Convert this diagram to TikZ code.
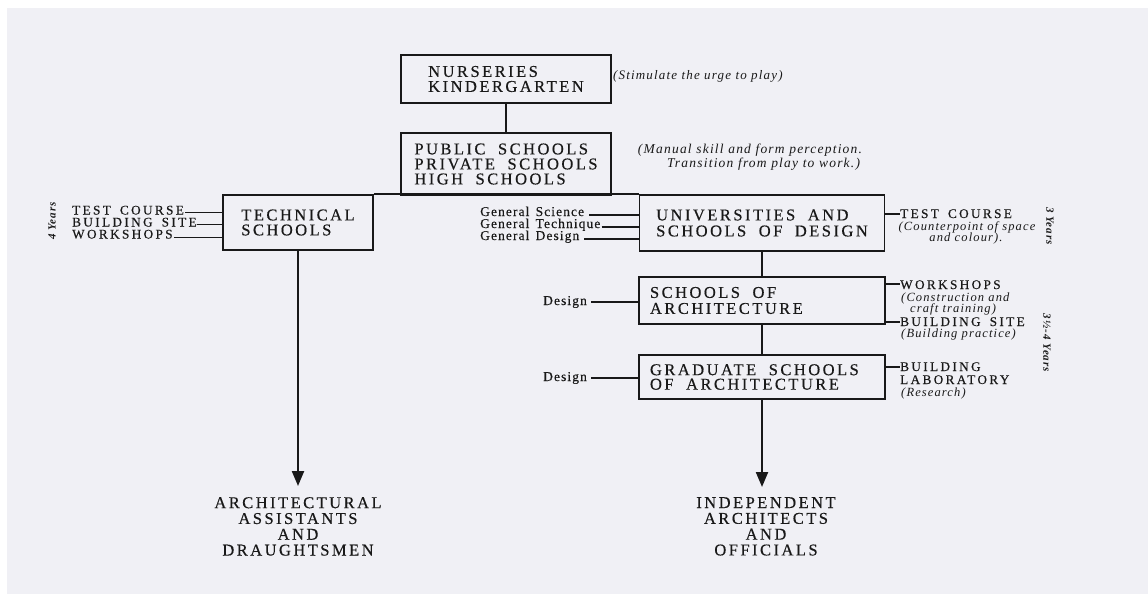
\documentclass[tikz,border=0pt]{standalone}
\usepackage{fontspec}
\setmainfont{Liberation Serif}
\newfontfamily\capf[LetterSpace=15,WordSpace=1.9,FakeBold=0.4]{Liberation Serif}
\newfontfamily\labf[LetterSpace=18,WordSpace=1.6,FakeBold=0.4]{Liberation Serif}
\newfontfamily\lowf[LetterSpace=8,WordSpace=1.4,FakeBold=0.3]{Liberation Serif}
\newfontfamily\itf[LetterSpace=9]{Liberation Serif}
\usetikzlibrary{arrows.meta,calc}
\definecolor{bg}{RGB}{240,240,245}
\definecolor{ink}{RGB}{25,25,25}
\tikzset{
  box/.style={draw=ink, line width=1.8pt, inner sep=0pt, align=left, text=ink,
    font=\capf\fontsize{16.5}{15}\selectfont},
  conn/.style={draw=ink, line width=1.8pt},
  link/.style={draw=ink, line width=1.4pt},
  arr/.style={draw=ink, line width=2.2pt, -{Triangle[length=15pt,width=12pt]}},
  lab/.style={inner sep=0pt, text=ink, anchor=base west, font=\labf\fontsize{13.2}{13}\selectfont},
  glab/.style={inner sep=0pt, text=ink, anchor=base west, font=\lowf\fontsize{13.5}{13}\selectfont},
  itl/.style={inner sep=0pt, text=ink, anchor=base west, font=\itf\itshape\fontsize{12.5}{12}\selectfont},
  note/.style={inner sep=0pt, text=ink, font=\itf\itshape\fontsize{13}{13}\selectfont},
  yrs/.style={inner sep=0pt, text=ink, font=\itf\itshape\bfseries\fontsize{11}{11}\selectfont},
  outt/.style={inner sep=0pt, text=ink, align=center, font=\capf\fontsize{16.5}{15.8}\selectfont}
}
\begin{document}
\begin{tikzpicture}[x=1pt,y=-1pt]
\useasboundingbox (0,0) rectangle (1148,594);
\fill[white] (0,0) rectangle (1148,594);
\fill[bg] (7,8) rectangle (1148,594);

% boxes
\node[box, minimum width=210pt, minimum height=48pt] (nurs) at (506,79) {NURSERIES\\KINDERGARTEN};
\node[box, minimum width=210pt, minimum height=62pt] (pub) at (506,164) {PUBLIC SCHOOLS\\PRIVATE SCHOOLS\\HIGH SCHOOLS};
\node[box, minimum width=150pt, minimum height=55pt] (tech) at (298,222.5) {TECHNICAL\\SCHOOLS};
\node[box, font=\capf\fontsize{16.5}{16}\selectfont, minimum width=245pt, minimum height=56pt] (uni) at (762,223) {UNIVERSITIES AND\\SCHOOLS OF DESIGN};
\node[box, font=\capf\fontsize{16.5}{16}\selectfont, text width=224pt, inner xsep=11pt, minimum height=47pt] (arch) at (762,300.5) {\spaceskip=0pt\xspaceskip=0pt\relax SCHOOLS OF\\ARCHITECTURE};
\node[box, font=\capf\fontsize{16.5}{14.5}\selectfont, text width=224pt, inner xsep=11pt, minimum height=44pt] (grad) at (762,377) {\spaceskip=0pt\xspaceskip=0pt\relax GRADUATE SCHOOLS\\OF ARCHITECTURE};

% notes
\node[note, anchor=west] (nursn) at (613,76) {(Stimulate the urge to play)};
\node[note, align=center, font=\itf\itshape\fontsize{13.5}{14}\selectfont] (pubn) at (750,157) {(Manual skill and form perception.\\ \hspace*{2em}Transition from play to work.)};

% main connectors
\draw[conn] (nurs.south) -- (pub.north);
\draw[conn] (tech.north east) -- (uni.north west);
\draw[conn] (uni.south) -- (arch.north);
\draw[conn] (arch.south) -- (grad.north);

% outputs
\node[outt, anchor=north] (techout) at (298,497) {ARCHITECTURAL\\ASSISTANTS\\AND\\DRAUGHTSMEN};
\node[outt, anchor=north] (uniout) at (766,497) {INDEPENDENT\\ARCHITECTS\\AND\\OFFICIALS};
\draw[arr] (tech.south) -- ([yshift=11pt]tech.south |- techout.north);
\draw[arr] (grad.south) -- ([yshift=10pt]grad.south |- uniout.north);

% technical school inputs
\node[lab] (t1) at (72,214.5) {TEST COURSE};
\node[lab] (t2) at (72,226.5) {BUILDING SITE};
\node[lab] (t3) at (72,238.5) {WORKSHOPS};
\draw[link] ([xshift=1pt,yshift=2pt]t1.base east) -- ([yshift=2pt]tech.west |- t1.base east);
\draw[link] ([xshift=0pt,yshift=2pt]t2.base east) -- ([yshift=2pt]tech.west |- t2.base east);
\draw[link] ([xshift=1pt,yshift=1pt]t3.base east) -- ([yshift=1pt]tech.west |- t3.base east);
\node[yrs, rotate=90] (y4) at (52,221) {4 Years};

% university inputs
\node[glab] (g1) at (480,216) {General Science};
\node[glab] (g2) at (480,228) {General Technique};
\node[glab] (g3) at (480,240) {General Design};
\draw[link] ([xshift=5pt,yshift=1pt]g1.base east) -- ([yshift=1pt]uni.west |- g1.base east);
\draw[link] ([xshift=1pt,yshift=1pt]g2.base east) -- ([yshift=1pt]uni.west |- g2.base east);
\draw[link] ([xshift=5pt,yshift=1pt]g3.base east) -- ([yshift=1pt]uni.west |- g3.base east);

% university right
\node[lab] (u1) at (900,218) {TEST COURSE};
\node[itl, anchor=base] (u2) at (967,230) {(Counterpoint of space};
\node[itl, anchor=base] (u3) at (966,241) {and colour).};
\draw[link] ([yshift=4pt]uni.east |- u1.base west) -- ([yshift=4pt]u1.base west);
\node[yrs, rotate=-90] (y3) at (1050,226) {3 Years};

% architecture left
\node[glab] (d1) at (543,305) {Design};
\node[glab] (d2) at (543,381) {Design};
\draw[link] ([xshift=4pt,yshift=3pt]d1.base east) -- ([yshift=3pt]arch.west |- d1.base east);
\draw[link] ([xshift=4pt,yshift=3pt]d2.base east) -- ([yshift=3pt]grad.west |- d2.base east);

% architecture right
\node[lab] (a1) at (900,289) {WORKSHOPS};
\node[itl] (a2) at (901,301) {(Construction and};
\node[itl] (a3) at (910,312) {craft training)};
\node[lab] (a4) at (900,326) {BUILDING SITE};
\node[itl] (a5) at (901,337) {(Building practice)};
\draw[link] ([yshift=5pt]arch.east |- a1.base west) -- ([yshift=5pt]a1.base west);
\draw[link] ([yshift=4pt]arch.east |- a4.base west) -- ([yshift=4pt]a4.base west);

% graduate right
\node[lab] (b1) at (900,371) {BUILDING};
\node[lab] (b2) at (900,384) {LABORATORY};
\node[itl] (b3) at (901,396) {(Research)};
\draw[link] ([yshift=4pt]grad.east |- b1.base west) -- ([yshift=4pt]b1.base west);
\node[yrs, rotate=-90] (y35) at (1047,343) {3½-4 Years};
\end{tikzpicture}
\end{document}
